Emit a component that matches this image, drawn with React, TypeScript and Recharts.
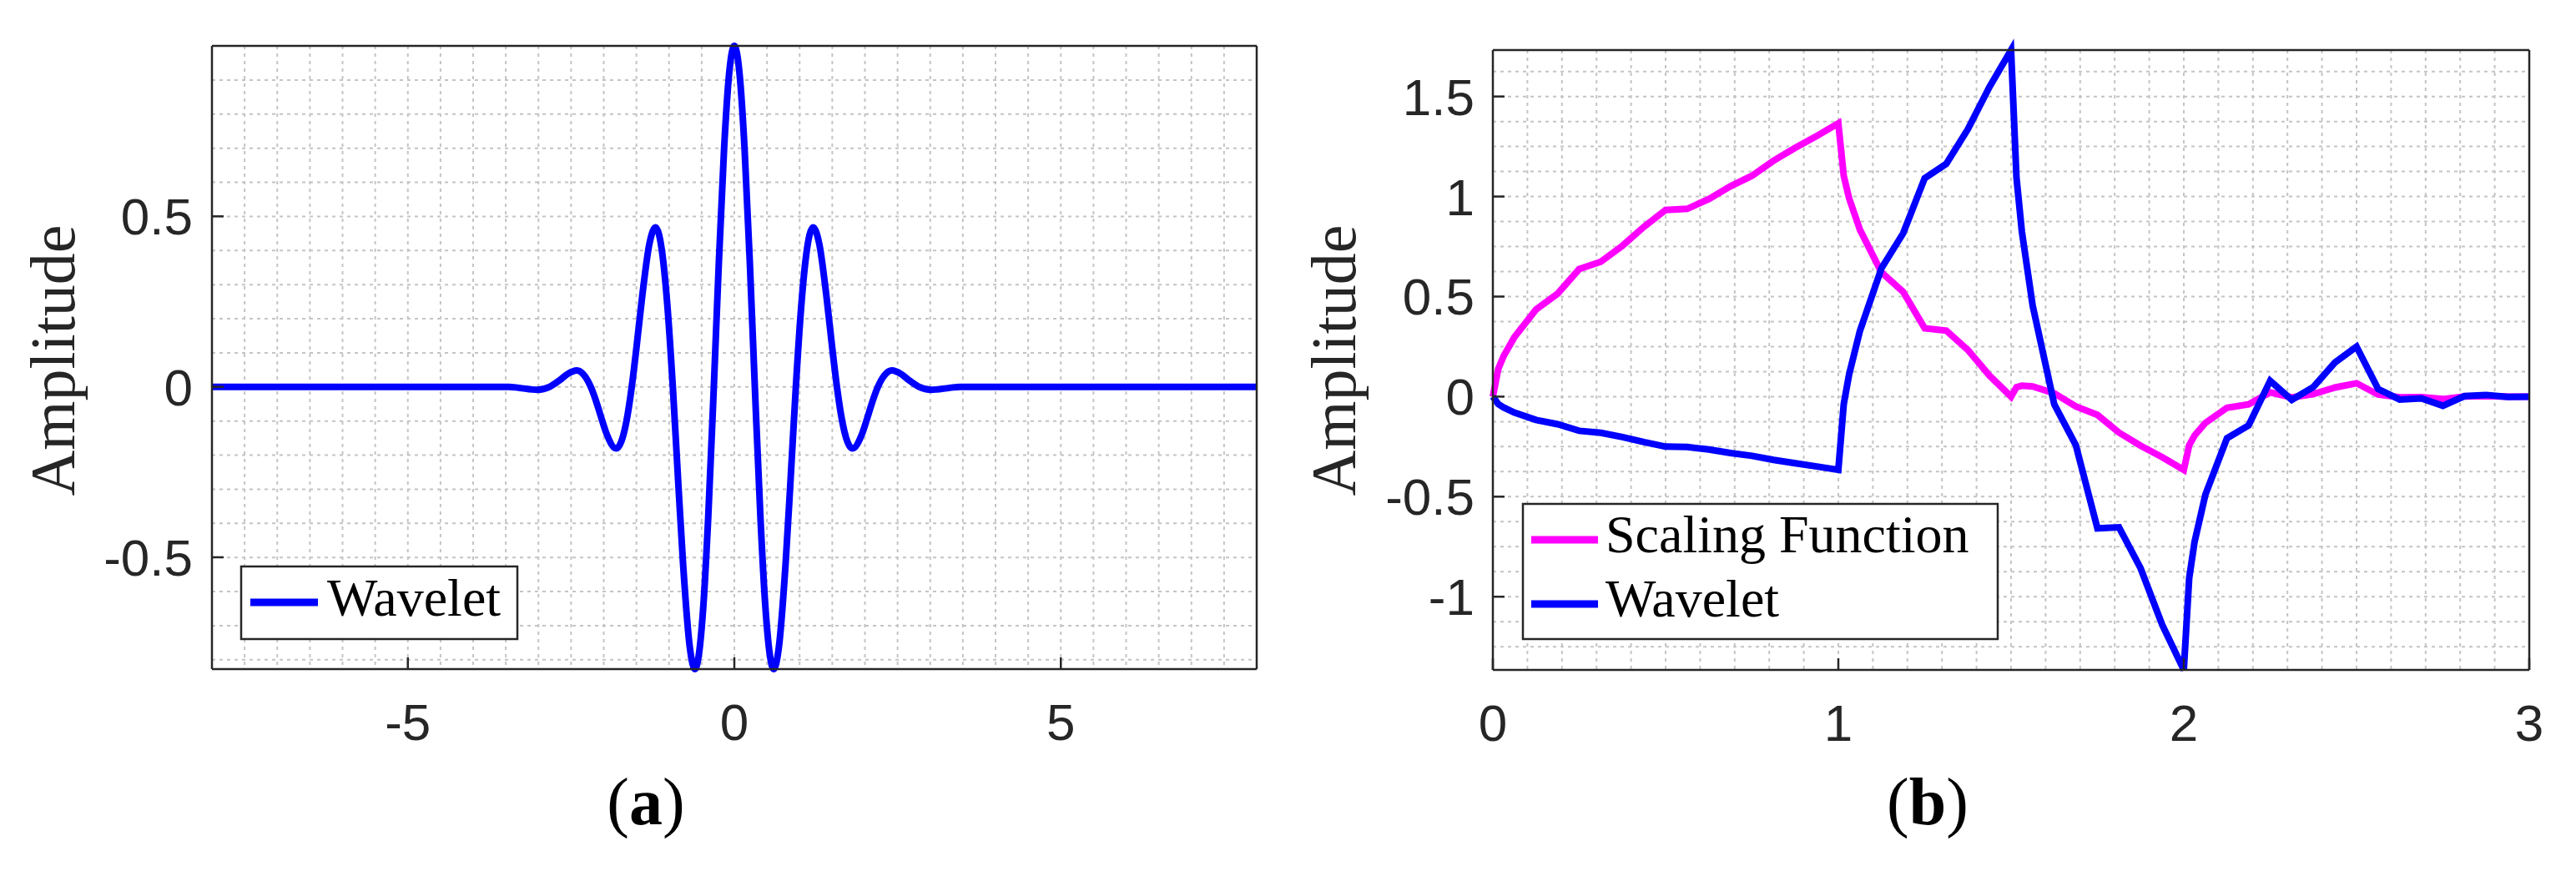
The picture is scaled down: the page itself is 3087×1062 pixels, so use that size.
import React from 'react';
import { LineChart, Line, XAxis, YAxis, CartesianGrid } from 'recharts';

// (a) Morlet wavelet
const morletT = [
  -8, -4, -3.456, -3.299, -3.016, -2.827, -2.67, -2.55, -2.413, -2.3, -2.199, -2.1, -2.042, -1.95,
  -1.81, -1.728, -1.65, -1.571, -1.5, -1.414, -1.3, -1.206, -1.1, -1.02, -0.942, -0.86, -0.785,
  -0.68, -0.603, -0.54, -0.471, -0.4, -0.314, -0.24, -0.157, -0.08,
  0,
  0.08, 0.157, 0.24, 0.314, 0.4, 0.471, 0.54, 0.603, 0.68, 0.785, 0.86, 0.942, 1.02, 1.1, 1.206,
  1.3, 1.414, 1.5, 1.571, 1.65, 1.728, 1.81, 1.95, 2.042, 2.1, 2.199, 2.3, 2.413, 2.55, 2.67,
  2.827, 3.016, 3.299, 3.456, 4, 8,
];
const morletAmp = [
  0, 0, 0, -0.003, -0.009, 0, 0.02, 0.038, 0.048, 0.034, 0, -0.052, -0.088, -0.141,
  -0.181, -0.159, -0.099, 0, 0.113, 0.26, 0.42, 0.468, 0.386, 0.225, 0, -0.277, -0.519,
  -0.767, -0.828, -0.781, -0.633, -0.384, 0, 0.352, 0.698, 0.918,
  1,
  0.918, 0.698, 0.352, 0, -0.384, -0.633, -0.781, -0.828, -0.767, -0.519, -0.277, 0, 0.225, 0.386, 0.468,
  0.42, 0.26, 0.113, 0, -0.099, -0.159, -0.181, -0.141, -0.088, -0.052, 0, 0.034, 0.048, 0.038, 0.02,
  0, -0.009, -0.003, 0, 0, 0,
];

// (b) scaling function and wavelet
const dbT = [
  0, 0.015625, 0.03125, 0.0625, 0.125, 0.1875, 0.25, 0.3125, 0.375, 0.4375, 0.5, 0.5625, 0.625,
  0.6875, 0.75, 0.8125, 0.875, 0.9375, 1, 1.015625, 1.03125, 1.0625, 1.125, 1.1875, 1.25, 1.3125,
  1.375, 1.4375, 1.5, 1.515625, 1.53125, 1.5625, 1.625, 1.6875, 1.75, 1.8125, 1.875, 1.9375, 2,
  2.015625, 2.03125, 2.0625, 2.125, 2.1875, 2.25, 2.3125, 2.375, 2.4375, 2.5, 2.5625, 2.625,
  2.6875, 2.75, 2.8125, 2.875, 2.9375, 3,
];
const scalingFn = [
  0, 0.1387, 0.2031, 0.2973, 0.4353, 0.5149, 0.6373, 0.6742, 0.7539, 0.8492, 0.933, 0.9387, 0.9871,
  1.0512, 1.1038, 1.1792, 1.2433, 1.3031, 1.366, 1.1043, 0.9912, 0.834, 0.6205, 0.5237, 0.3415, 0.3301,
  0.2333, 0.1052, 0, 0.0473, 0.0547, 0.0511, 0.0168, -0.0488, -0.0915, -0.1799, -0.2455, -0.3027, -0.366,
  -0.243, -0.1942, -0.1312, -0.0558, -0.0386, 0.0212, -0.0043, 0.0129, 0.0456, 0.067, 0.0102, -0.0039,
  -0.0024, -0.0123, 0.0007, 0.0022, -0.0004, 0,
];
const waveletFn = [
  0, -0.0372, -0.0544, -0.0797, -0.1166, -0.138, -0.1708, -0.1807, -0.202, -0.2275, -0.25, -0.2515, -0.2645,
  -0.2817, -0.2958, -0.316, -0.3331, -0.3492, -0.366, -0.0384, 0.1113, 0.3284, 0.6417, 0.8156, 1.0915, 1.1632,
  1.337, 1.5482, 1.7321, 1.0955, 0.8251, 0.4545, -0.038, -0.243, -0.6585, -0.6532, -0.8582, -1.1403, -1.366,
  -0.9068, -0.7249, -0.4898, -0.2081, -0.1441, 0.0793, -0.016, 0.048, 0.1703, 0.25, 0.0381, -0.0145,
  -0.0088, -0.0458, 0.0027, 0.0084, -0.0015, 0,
];

const xTicksA = [-5, 0, 5];
const yTicksA = [-0.5, 0, 0.5];
const xTicksB = [0, 1, 2, 3];
const yTicksB = [-1, -0.5, 0, 0.5, 1, 1.5];

const xDomainA: [number, number] = [-8, 8];
const yDomainA: [number, number] = [-0.8275, 1];
const xDomainB: [number, number] = [0, 3];
const yDomainB: [number, number] = [-1.366, 1.7321];

const morletData = morletT.map((t, i) => ({ t, wavelet: morletAmp[i] }));
const dbData = dbT.map((t, i) => ({ t, scaling: scalingFn[i], wavelet: waveletFn[i] }));

// minor grid positions (MATLAB "grid minor")
const steps = (from: number, to: number, step: number) => {
  const out: number[] = [];
  const n = Math.round((to - from) / step);
  for (let i = 0; i <= n; i++) out.push(+(from + i * step).toFixed(4));
  return out;
};

const AXIS = '#262626';
const GRID = '#c4c4c4';
const tickFont = { fontFamily: '"Liberation Sans", Arial, sans-serif', fontSize: 62, fill: AXIS };
const axisLine = { stroke: AXIS, strokeWidth: 2.5 };

const vGen = (vals: number[], dom: [number, number]) => ({ offset }: any) =>
  vals.map((v) => offset.left + ((v - dom[0]) / (dom[1] - dom[0])) * offset.width);
const hGen = (vals: number[], dom: [number, number]) => ({ offset }: any) =>
  vals.map((v) => offset.top + ((dom[1] - v) / (dom[1] - dom[0])) * offset.height);

const serif = '"Liberation Serif", "Times New Roman", serif';

// axes for the top and right sides of the box (MATLAB "box on", ticks pointing in)
// size 1, because Recharts skips an axis whose width or height is 0
const boxAxes = (xDomain: [number, number], xTicks: number[], yDomain: [number, number], yTicks: number[], key: string) => [
  <XAxis key="xt" xAxisId="top" orientation="top" type="number" dataKey="t" domain={xDomain} ticks={xTicks}
    interval={0} height={1} tick={false} tickSize={-14} tickLine={axisLine} axisLine={axisLine} />,
  <YAxis key="yr" yAxisId="right" orientation="right" type="number" domain={yDomain} ticks={yTicks}
    interval={0} width={1} tick={false} tickSize={-14} tickLine={axisLine} axisLine={axisLine} />,
  // invisible twin so the box axes have a series bound to them
  <Line key="twin" xAxisId="top" yAxisId="right" dataKey={key} stroke="none" strokeWidth={0} dot={false}
    activeDot={false} legendType="none" isAnimationActive={false} />,
];

const App = () => {
  return (
    <div style={{ position: 'absolute', left: 0, top: 0, width: 3087, height: 1062, background: '#fff' }}>
      <div style={{ position: 'absolute', left: 0, top: 0 }}>
        <LineChart width={1543} height={1062} data={morletData} margin={{ top: 54, right: 36, bottom: 160, left: 0 }}>
          <CartesianGrid
            stroke={GRID}
            strokeWidth={2}
            strokeDasharray="4 5"
            verticalCoordinatesGenerator={vGen(steps(-8, 8, 0.5), xDomainA)}
            horizontalCoordinatesGenerator={hGen(steps(-0.8, 1, 0.1), yDomainA)}
          />
          <Line
            type="monotone"
            dataKey="wavelet"
            stroke="#0000ff"
            strokeWidth={8}
            dot={false}
            isAnimationActive={false}
          />
          <XAxis
            dataKey="t"
            type="number"
            domain={xDomainA}
            ticks={xTicksA}
            interval={0}
            height={100}
            tick={tickFont}
            tickSize={-14}
            tickMargin={55}
            tickLine={axisLine}
            axisLine={axisLine}
          />
          <YAxis
            type="number"
            domain={yDomainA}
            ticks={yTicksA}
            interval={0}
            width={254}
            tick={tickFont}
            tickSize={-14}
            tickMargin={37}
            tickLine={axisLine}
            axisLine={axisLine}
          />
          {boxAxes(xDomainA, xTicksA, yDomainA, yTicksA, 'wavelet')}
        </LineChart>
      </div>

      <div style={{ position: 'absolute', left: 1543, top: 0 }}>
        <LineChart width={1544} height={1062} data={dbData} margin={{ top: 59, right: 55, bottom: 159, left: 0 }}>
          <CartesianGrid
            stroke={GRID}
            strokeWidth={2}
            strokeDasharray="4 5"
            verticalCoordinatesGenerator={vGen(steps(0, 3, 0.1), xDomainB)}
            horizontalCoordinatesGenerator={hGen(steps(-1.25, 1.625, 0.125), yDomainB)}
          />
          <Line type="linear" dataKey="scaling" stroke="#ff00ff" strokeWidth={8} dot={false} isAnimationActive={false} />
          <Line type="linear" dataKey="wavelet" stroke="#0000ff" strokeWidth={8} dot={false} isAnimationActive={false} />
          <XAxis
            dataKey="t"
            type="number"
            domain={xDomainB}
            ticks={xTicksB}
            interval={0}
            height={100}
            tick={tickFont}
            tickSize={-14}
            tickMargin={55}
            tickLine={axisLine}
            axisLine={axisLine}
          />
          <YAxis
            type="number"
            domain={yDomainB}
            ticks={yTicksB}
            interval={0}
            width={246}
            tick={tickFont}
            tickSize={-14}
            tickMargin={36}
            tickLine={axisLine}
            axisLine={axisLine}
          />
          {boxAxes(xDomainB, xTicksB, yDomainB, yTicksB, 'wavelet')}
        </LineChart>
      </div>

      {/* labels, legends and sub-captions */}
      <svg width={3087} height={1062} style={{ position: 'absolute', left: 0, top: 0, pointerEvents: 'none' }}>
        <text x={89} y={432} transform="rotate(-90 89 432)" textAnchor="middle" fontFamily={serif} fontSize={76} fill={AXIS}>
          Amplitude
        </text>
        <text x={1624} y={432} transform="rotate(-90 1624 432)" textAnchor="middle" fontFamily={serif} fontSize={76} fill={AXIS}>
          Amplitude
        </text>

        <rect x={289} y={679} width={331} height={87} fill="#fff" stroke={AXIS} strokeWidth={2.5} />
        <line x1={300} x2={381} y1={722} y2={722} stroke="#0000ff" strokeWidth={9} />
        <text x={392} y={738} fontFamily={serif} fontSize={64} fill="#000">Wavelet</text>

        <rect x={1825} y={604} width={569} height={162} fill="#fff" stroke={AXIS} strokeWidth={2.5} />
        <line x1={1835} x2={1915} y1={647} y2={647} stroke="#ff00ff" strokeWidth={9} />
        <text x={1924} y={662} fontFamily={serif} fontSize={64} fill="#000">Scaling Function</text>
        <line x1={1835} x2={1915} y1={724} y2={724} stroke="#0000ff" strokeWidth={9} />
        <text x={1924} y={739} fontFamily={serif} fontSize={64} fill="#000">Wavelet</text>

        <text x={774} y={988} textAnchor="middle" fontFamily={serif} fontSize={80} fill="#000">
          (<tspan fontWeight="bold">a</tspan>)
        </text>
        <text x={2310} y={988} textAnchor="middle" fontFamily={serif} fontSize={80} fill="#000">
          (<tspan fontWeight="bold">b</tspan>)
        </text>
      </svg>
    </div>
  );
};

export default App;
